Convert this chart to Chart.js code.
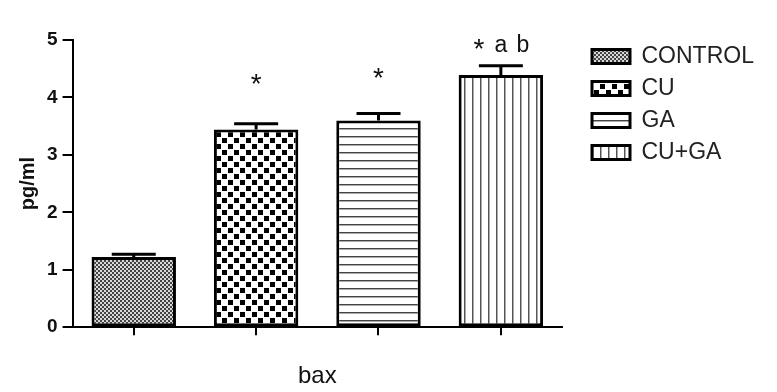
<!DOCTYPE html>
<html>
<head>
<meta charset="utf-8">
<script src="https://cdn.jsdelivr.net/npm/chart.js@4.4.1/dist/chart.umd.min.js"></script>
<style>
  html, body { margin: 0; padding: 0; background: #fff; }
  #wrap { width: 777px; height: 392px; }
</style>
</head>
<body>
<div id="wrap"><canvas id="c" width="777" height="392"></canvas></div>
<script>
const categories = ['CONTROL', 'CU', 'GA', 'CU+GA'];
const means = [1.22, 3.44, 3.6, 4.39];
const sems = [0.05, 0.1, 0.12, 0.16];
const marks = ['', '*', '*', '* a b'];
const markLevels = [0, 4.3, 4.4, 4.9];
const yTicks = [0, 1, 2, 3, 4, 5];
const xTitle = 'bax';
const yTitle = 'pg/ml';

const FONT = "'Liberation Sans', Arial, sans-serif";

function makePattern(kind) {
  const t = document.createElement('canvas');
  const g = t.getContext('2d');
  if (kind === 0) {
    t.width = 4; t.height = 4;
    g.fillStyle = '#d8d8d8'; g.fillRect(0, 0, 4, 4);
    g.fillStyle = '#444444'; g.fillRect(0, 0, 2, 2); g.fillRect(2, 2, 2, 2);
  } else if (kind === 1) {
    t.width = 12; t.height = 12;
    g.fillStyle = '#ffffff'; g.fillRect(0, 0, 12, 12);
    g.fillStyle = '#000000'; g.fillRect(0, 0, 5, 5); g.fillRect(6, 6, 5, 5);
  } else if (kind === 2) {
    t.width = 8; t.height = 8;
    g.fillStyle = '#ffffff'; g.fillRect(0, 0, 8, 8);
    g.fillStyle = '#444444'; g.fillRect(0, 0, 8, 1);
    g.fillStyle = '#aaaaaa'; g.fillRect(0, 1, 8, 1);
  } else {
    t.width = 8; t.height = 8;
    g.fillStyle = '#ffffff'; g.fillRect(0, 0, 8, 8);
    g.fillStyle = '#555555'; g.fillRect(0, 0, 1, 8);
    g.fillStyle = '#aaaaaa'; g.fillRect(1, 0, 1, 8);
  }
  return g.createPattern(t, 'repeat');
}
const ctx = document.getElementById('c').getContext('2d');
const fills = categories.map((_, i) => makePattern(i));

const legendShift = {
  id: 'legendShift',
  afterLayout(chart) {
    const lg = chart.legend;
    if (!lg) return;
    const dx = 583 - lg.left;
    const dy = -4;
    lg.left += dx; lg.right += dx;
    lg.top += dy; lg.bottom += dy;
  }
};

const errorBars = {
  id: 'errorBars',
  afterDatasetsDraw(chart) {
    const meta = chart.getDatasetMeta(0);
    const y = chart.scales.y;
    const c = chart.ctx;
    c.save();
    c.strokeStyle = '#000';
    c.lineWidth = 3;
    meta.data.forEach((bar, i) => {
      const yTop = y.getPixelForValue(means[i] + sems[i]);
      const yBar = y.getPixelForValue(means[i]);
      c.beginPath();
      c.moveTo(bar.x, yBar);
      c.lineTo(bar.x, yTop);
      c.moveTo(bar.x - 22, yTop);
      c.lineTo(bar.x + 22, yTop);
      c.stroke();
      if (marks[i]) {
        const parts = marks[i].split(' ');
        const step = 22;
        const yMark = y.getPixelForValue(markLevels[i]);
        c.fillStyle = '#111';
        c.textAlign = 'center';
        c.textBaseline = 'middle';
        parts.forEach((p, k) => {
          const px = bar.x + (k - (parts.length - 1) / 2) * step;
          if (p === '*') {
            c.font = '28px ' + FONT;
            c.fillText(p, px, yMark + 5);
          } else {
            c.font = '23px ' + FONT;
            c.fillText(p, px, yMark);
          }
        });
      }
    });
    c.restore();
  }
};

new Chart(ctx, {
  type: 'bar',
  data: {
    labels: categories,
    datasets: [{
      data: means,
      backgroundColor: fills,
      borderColor: '#000',
      borderWidth: 3,
      borderSkipped: false,
      barPercentage: 0.69,
      categoryPercentage: 1
    }]
  },
  options: {
    responsive: false,
    animation: false,
    events: [],
    layout: { padding: { top: 40, left: 8, right: 34, bottom: 1 } },
    plugins: {
      tooltip: { enabled: false },
      legend: {
        display: true,
        position: 'right',
        align: 'start',
        labels: {
          boxWidth: 38,
          boxHeight: 14,
          padding: 9,
          color: '#222',
          font: { family: FONT, size: 23 },
          generateLabels() {
            return categories.map((name, i) => ({
              text: name,
              fillStyle: fills[i],
              strokeStyle: '#000',
              lineWidth: 3,
              hidden: false,
              index: i,
              fontColor: '#222'
            }));
          }
        }
      }
    },
    scales: {
      x: {
        offset: true,
        grid: { display: true, drawOnChartArea: false, offset: false, drawTicks: true, tickLength: 8, color: '#000', lineWidth: 2 },
        border: { display: true, color: '#000', width: 2 },
        ticks: { display: false },
        title: { display: true, text: xTitle, color: '#111', font: { family: FONT, size: 24 }, padding: { top: 27, bottom: 0 } }
      },
      y: {
        min: 0,
        max: 5,
        afterBuildTicks(scale) { scale.ticks = yTicks.map(v => ({ value: v })); },
        grid: { display: true, drawOnChartArea: false, drawTicks: true, tickLength: 10, color: '#000', lineWidth: 2 },
        border: { display: true, color: '#000', width: 2 },
        ticks: { color: '#111', padding: 5, font: { family: FONT, size: 19, weight: 'bold' } },
        title: { display: true, text: yTitle, color: '#111', font: { family: FONT, size: 20, weight: 'bold' }, padding: { top: 8, bottom: 2 } }
      }
    }
  },
  plugins: [legendShift, errorBars]
});
</script>
</body>
</html>
